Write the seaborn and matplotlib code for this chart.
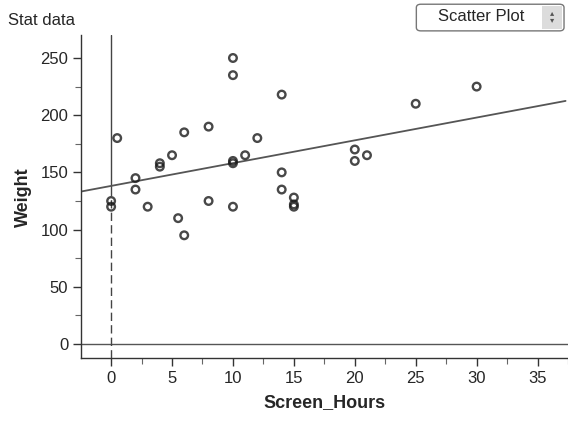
import matplotlib
matplotlib.use("Agg")
import matplotlib.pyplot as plt
from matplotlib.patches import FancyBboxPatch, Rectangle
import seaborn as sns
import pandas as pd

# values
screen_hours = [0, 0, 0.5, 2, 2, 3, 4, 4, 5, 5.5, 6, 6, 8, 8, 10, 10, 10, 10, 10,
                11, 12, 14, 14, 14, 15, 15, 15, 20, 20, 21, 25, 30]
weight = [125, 120, 180, 145, 135, 120, 155, 158, 165, 110, 185, 95, 190, 125, 250, 235, 160, 158, 120,
          165, 180, 218, 150, 135, 128, 122, 120, 170, 160, 165, 210, 225]
x_ticks = [0, 5, 10, 15, 20, 25, 30, 35]
y_ticks = [0, 50, 100, 150, 200, 250]

df = pd.DataFrame({"Screen_Hours": screen_hours, "Weight": weight})

sns.set_style("ticks")
plt.rcParams["font.family"] = ["Liberation Sans", "DejaVu Sans"]

fig = plt.figure(figsize=(5.68, 4.23), dpi=100)
ax = fig.add_axes([0.142, 0.153, 0.858, 0.764])
ax.set_xlim(-2.5, 37.3)
ax.set_ylim(-12.5, 270)

# reference lines at zero
ax.axhline(0, color="#555555", lw=1.0, zorder=1)
ax.axvline(0, ymin=0.53, ymax=1, color="#444444", lw=1.0, zorder=1)
ax.axvline(0, ymin=0, ymax=0.53, color="#444444", lw=1.0, ls=(0, (6, 3)), zorder=1)

sns.regplot(data=df, x="Screen_Hours", y="Weight", ax=ax, ci=None, truncate=False,
            scatter_kws=dict(s=30, facecolors="none", edgecolors="#1a1a1a", linewidths=1.7, zorder=3),
            line_kws=dict(color="#555555", lw=1.3, zorder=2))

ax.set_xticks(x_ticks)
ax.set_yticks(y_ticks)
ax.set_xticks([v + 2.5 for v in x_ticks], minor=True)
ax.set_yticks([v + 25 for v in y_ticks[:-1]], minor=True)
ax.tick_params(which="major", length=6, width=1, color="#333333", labelsize=12, pad=3)
ax.tick_params(which="minor", length=4, width=0.8, color="#666666")
ax.set_xlabel("Screen_Hours", fontsize=13, fontweight="bold", labelpad=6)
ax.set_ylabel("Weight", fontsize=13, fontweight="bold", labelpad=6)
sns.despine(ax=ax, top=True, right=True)
for sp in ["left", "bottom"]:
    ax.spines[sp].set_color("#333333")
    ax.spines[sp].set_linewidth(1.0)

fig.text(0.014, 0.952, "Stat data", fontsize=12, ha="left", va="center")

# "Scatter Plot" selector box in the top right corner
fig.patches.append(FancyBboxPatch((0.733, 0.927), 0.26, 0.063, transform=fig.transFigure,
                                  boxstyle="round,pad=0,rounding_size=0.008",
                                  fc="white", ec="#777777", lw=1.0))
fig.patches.append(Rectangle((0.955, 0.932), 0.034, 0.053, transform=fig.transFigure,
                             fc="#dcdcdc", ec="none"))
fig.text(0.848, 0.960, "Scatter Plot", fontsize=12, ha="center", va="center")
fig.text(0.972, 0.959, "\u25b4\n\u25be", fontsize=6, ha="center", va="center", color="#555555",
         linespacing=0.9)

fig.savefig("out.png", dpi=100)
